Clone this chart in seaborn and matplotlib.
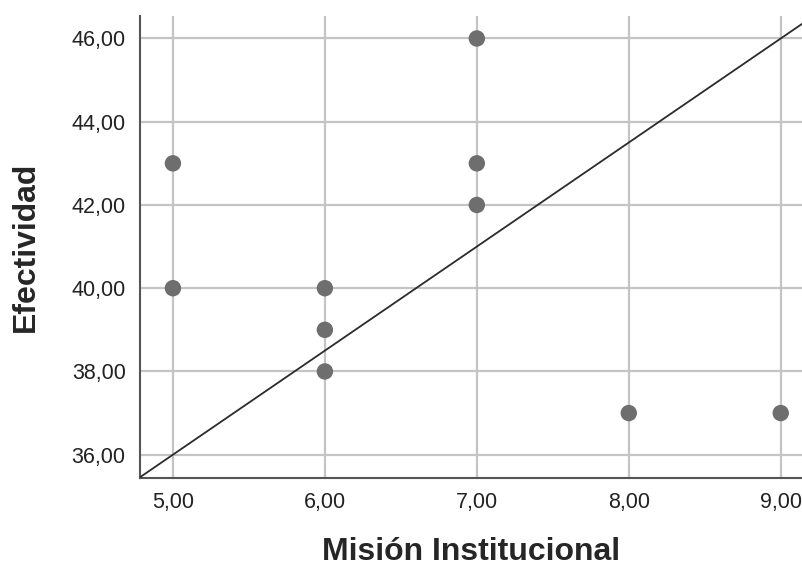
import matplotlib
matplotlib.use("Agg")
import matplotlib.pyplot as plt
import seaborn as sns
import pandas as pd
from matplotlib.ticker import FuncFormatter

# data
mision = [5, 5, 6, 6, 6, 7, 7, 7, 8, 9]
efectividad = [43, 40, 40, 39, 38, 46, 43, 42, 37, 37]
x_ticks = [5, 6, 7, 8, 9]
y_ticks = [36, 38, 40, 42, 44, 46]
# reference line (passes through (5, 36) with slope 2.5)
ref_point = (5, 36)
ref_slope = 2.5

df = pd.DataFrame({"Misión Institucional": mision, "Efectividad": efectividad})

sns.set_style("whitegrid")
plt.rcParams["font.family"] = ["Liberation Sans", "DejaVu Sans"]

fig = plt.figure(figsize=(8.02, 5.72), dpi=100)
ax = fig.add_axes([139.5 / 802, 1 - 478 / 572, 1 - 139.5 / 802, (478 - 16) / 572])

ax.axline(ref_point, slope=ref_slope, color="#2b2b2b", lw=1.3, zorder=3)
sns.scatterplot(data=df, x="Misión Institucional", y="Efectividad", ax=ax,
                color="#6e6e6e", s=140, edgecolor="none", zorder=4, clip_on=False)

ax.set_xlim(4.78, 9.14)
ax.set_ylim(35.44, 46.54)
ax.set_xticks(x_ticks)
ax.set_yticks(y_ticks)
fmt = FuncFormatter(lambda v, p: f"{v:.2f}".replace(".", ","))
ax.xaxis.set_major_formatter(fmt)
ax.yaxis.set_major_formatter(fmt)

ax.grid(True, color="#c4c4c4", lw=1.6)
ax.tick_params(axis="both", length=0, labelsize=15.5, colors="#222222")
ax.tick_params(axis="x", pad=10)
ax.tick_params(axis="y", pad=10)

for side in ["top", "right"]:
    ax.spines[side].set_visible(False)
for side in ["left", "bottom"]:
    ax.spines[side].set_color("#555555")
    ax.spines[side].set_linewidth(1.5)

ax.set_xlabel("Misión Institucional", fontsize=23, fontweight="bold", labelpad=17)
ax.set_ylabel("Efectividad", fontsize=23, fontweight="bold", labelpad=22)

fig.savefig("out.png", dpi=100)
